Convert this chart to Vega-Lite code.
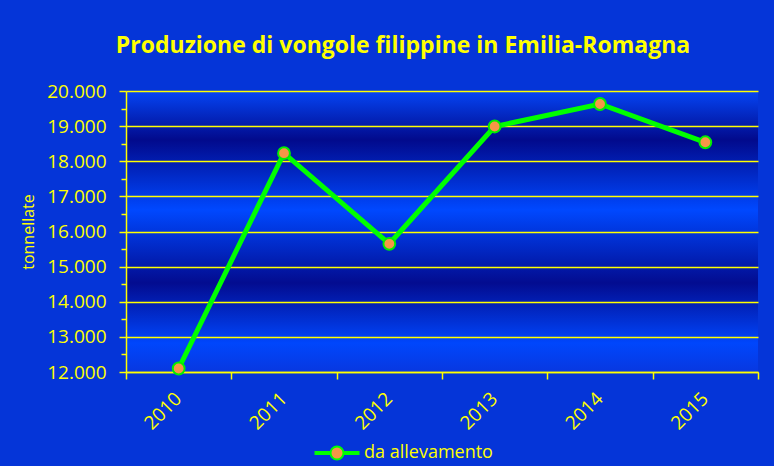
{
  "$schema": "https://vega.github.io/schema/vega-lite/v6.json",
  "width": 632,
  "height": 281,
  "autosize": {"type": "none"},
  "padding": {"left": 126, "top": 91, "right": 16, "bottom": 94},
  "background": "#0535d8",
  "title": {
    "text": "Produzione di vongole filippine in Emilia-Romagna",
    "color": "#ffff00",
    "font": "Open Sans",
    "fontSize": 23,
    "fontWeight": "bold",
    "anchor": "middle",
    "frame": "group",
    "dx": -39,
    "offset": 24
  },
  "config": {
    "view": {
      "stroke": null,
      "fill": {
        "gradient": "linear",
        "x1": 0, "y1": 0, "x2": 0, "y2": 1,
        "stops": [
          {"offset": 0, "color": "#0545f5"},
          {"offset": 0.174, "color": "#020a8c"},
          {"offset": 0.423, "color": "#0048ff"},
          {"offset": 0.683, "color": "#030c90"},
          {"offset": 0.897, "color": "#0046fc"},
          {"offset": 1, "color": "#0838e0"}
        ]
      }
    }
  },
  "data": {
    "values": [
      {"anno": "2010", "t": 12100, "serie": "da allevamento"},
      {"anno": "2011", "t": 18230, "serie": "da allevamento"},
      {"anno": "2012", "t": 15650, "serie": "da allevamento"},
      {"anno": "2013", "t": 18990, "serie": "da allevamento"},
      {"anno": "2014", "t": 19630, "serie": "da allevamento"},
      {"anno": "2015", "t": 18540, "serie": "da allevamento"}
    ]
  },
  "encoding": {
    "x": {
      "field": "anno",
      "type": "ordinal",
      "scale": {"paddingInner": 0, "paddingOuter": 0},
      "axis": {
        "title": null,
        "labelAngle": -45,
        "labelColor": "#ffff00",
        "labelFont": "Open Sans",
        "labelFontSize": 19,
        "labelPadding": 10,
        "labelOffset": -7,
        "domainColor": "#ffff00",
        "domainWidth": 1.5,
        "tickColor": "#ffff00",
        "tickWidth": 1.5,
        "tickSize": 7,
        "tickBand": "extent",
        "grid": false
      }
    },
    "y": {
      "field": "t",
      "type": "quantitative",
      "scale": {"domain": [12000, 20000], "nice": false, "zero": false},
      "axis": {
        "title": "tonnellate",
        "titleColor": "#ffff00",
        "titleFont": "Open Sans",
        "titleFontSize": 16,
        "titleFontWeight": "normal",
        "titlePadding": 10,
        "values": [12000, 12500, 13000, 13500, 14000, 14500, 15000, 15500, 16000, 16500, 17000, 17500, 18000, 18500, 19000, 19500, 20000],
        "labelExpr": "datum.value % 1000 == 0 ? replace(format(datum.value, ','), ',', '.') : ''",
        "labelColor": "#ffff00",
        "labelFont": "Open Sans",
        "labelFontSize": 19,
        "labelPadding": 13,
        "domainColor": "#ffff00",
        "domainWidth": 1.5,
        "tickColor": "#ffff00",
        "tickWidth": 1.5,
        "tickSize": {"condition": {"test": "datum.value % 1000 != 0", "value": 5}, "value": 7},
        "grid": true,
        "gridColor": "#ffff00",
        "gridWidth": 1.5,
        "gridOpacity": {"condition": {"test": "datum.value % 1000 != 0", "value": 0}, "value": 1}
      }
    }
  },
  "layer": [
    {
      "mark": {"type": "line", "strokeWidth": 5},
      "encoding": {
        "color": {
          "field": "serie",
          "type": "nominal",
          "scale": {"range": ["#00ff00"]},
          "legend": {
            "title": null,
            "orient": "none",
            "legendX": 200,
            "legendY": 351,
            "labelColor": "#ffff00",
            "labelFont": "Open Sans",
            "labelFontSize": 18,
            "labelOffset": 16,
            "symbolType": "M-2.15,-0.1 L-0.65,-0.1 L-0.65,0.1 L-2.15,0.1 Z M0.65,-0.1 L2.15,-0.1 L2.15,0.1 L0.65,0.1 Z M-0.65,0 A0.65,0.65 0 1,0 0.65,0 A0.65,0.65 0 1,0 -0.65,0 Z",
            "symbolSize": 400,
            "encode": {
              "symbols": {
                "update": {
                  "fill": {"value": "#f79646"},
                  "stroke": {"value": "#00ff00"},
                  "strokeWidth": {"value": 2},
                  "opacity": {"value": 1}
                }
              }
            }
          }
        }
      }
    },
    {
      "mark": {"type": "point", "filled": true, "fill": "#f79646", "stroke": "#00ee00", "strokeWidth": 2, "size": 140, "opacity": 1}
    }
  ]
}
